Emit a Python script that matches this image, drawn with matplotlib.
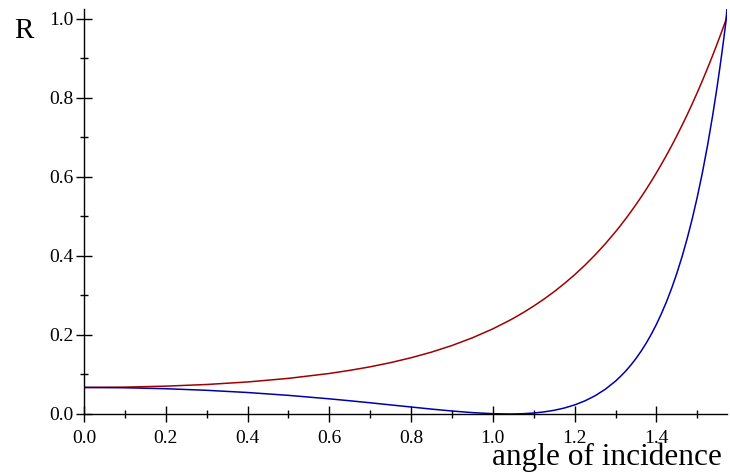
import matplotlib
matplotlib.use('Agg')
import matplotlib.pyplot as plt
from matplotlib.ticker import MultipleLocator

# angle of incidence (rad) and reflectance values
angle = [0.0, 0.1, 0.2, 0.3, 0.4, 0.5, 0.6, 0.65, 0.7, 0.75, 0.8, 0.85,
         0.9, 0.95, 1.0, 1.04, 1.05, 1.075, 1.1, 1.125, 1.15, 1.175, 1.2,
         1.225, 1.25, 1.275, 1.3, 1.3125, 1.325, 1.3375, 1.35, 1.3625,
         1.375, 1.3875, 1.4, 1.4125, 1.425, 1.4375, 1.45, 1.4625, 1.475,
         1.4875, 1.5, 1.5125, 1.525, 1.5375, 1.5475, 1.555, 1.56, 1.565,
         1.57, 1.5726]
r_red = [0.0672, 0.0680, 0.0705, 0.0747, 0.0811, 0.0902, 0.1026, 0.1105,
         0.1195, 0.1301, 0.1424, 0.1567, 0.1734, 0.1929, 0.2156, 0.2366,
         0.2422, 0.2572, 0.2734, 0.2909, 0.3098, 0.3304, 0.3526, 0.3766,
         0.4027, 0.4309, 0.4614, 0.4776, 0.4944, 0.5120, 0.5302, 0.5491,
         0.5688, 0.5893, 0.6106, 0.6328, 0.6558, 0.6797, 0.7046, 0.7304,
         0.7572, 0.7851, 0.8141, 0.8441, 0.8753, 0.9077, 0.9345, 0.9551,
         0.9691, 0.9833, 0.9977, 1.010]
r_blue = [0.0672, 0.0664, 0.0640, 0.0600, 0.0544, 0.0472, 0.0384, 0.0335,
          0.0284, 0.0230, 0.0177, 0.0124, 0.0076, 0.0035, 0.0008, 0.0000,
          0.0001, 0.0008, 0.0025, 0.0053, 0.0094, 0.0152, 0.0230, 0.0332,
          0.0462, 0.0627, 0.0833, 0.0955, 0.1089, 0.1239, 0.1405, 0.1590,
          0.1794, 0.2020, 0.2270, 0.2547, 0.2852, 0.3190, 0.3564, 0.3977,
          0.4434, 0.4938, 0.5497, 0.6114, 0.6798, 0.7556, 0.8220, 0.8756,
          0.9132, 0.9524, 0.9933, 1.028]

fig = plt.figure(figsize=(7.3, 4.76), dpi=100)
ax = fig.add_axes([84/730, 62/476, 643/730, 405/476])

ax.plot(angle, r_red, color='#a00000', lw=1.1)
ax.plot(angle, r_blue, color='#0000a8', lw=1.1)

ax.set_xlim(0, 1.5726)
ax.set_ylim(0, 1.0253)

for s in ['top', 'right']:
    ax.spines[s].set_visible(False)
for s in ['left', 'bottom']:
    ax.spines[s].set_linewidth(1.0)

ax.xaxis.set_major_locator(MultipleLocator(0.2))
ax.xaxis.set_minor_locator(MultipleLocator(0.1))
ax.yaxis.set_major_locator(MultipleLocator(0.2))
ax.yaxis.set_minor_locator(MultipleLocator(0.1))
ax.set_xticklabels([f'{v:.1f}' for v in ax.get_xticks()])
ax.set_yticklabels([f'{v:.1f}' for v in ax.get_yticks()])

ax.tick_params(which='major', direction='inout', length=11.5, width=1.0)
ax.tick_params(which='minor', direction='inout', length=6, width=1.0)
ax.tick_params(axis='x', which='major', pad=6)
ax.tick_params(axis='y', which='major', pad=2)
for lab in ax.get_xticklabels() + ax.get_yticklabels():
    lab.set_fontfamily('Liberation Serif')
    lab.set_fontsize(14)

fig.text(24/730, 1 - 38/476, 'R', family='Liberation Serif', fontsize=21,
         ha='center', va='baseline')
fig.text(722/730, 11/476, 'angle of incidence', family='Liberation Serif',
         fontsize=22.5, ha='right', va='baseline')

fig.savefig('out.png', dpi=100)
